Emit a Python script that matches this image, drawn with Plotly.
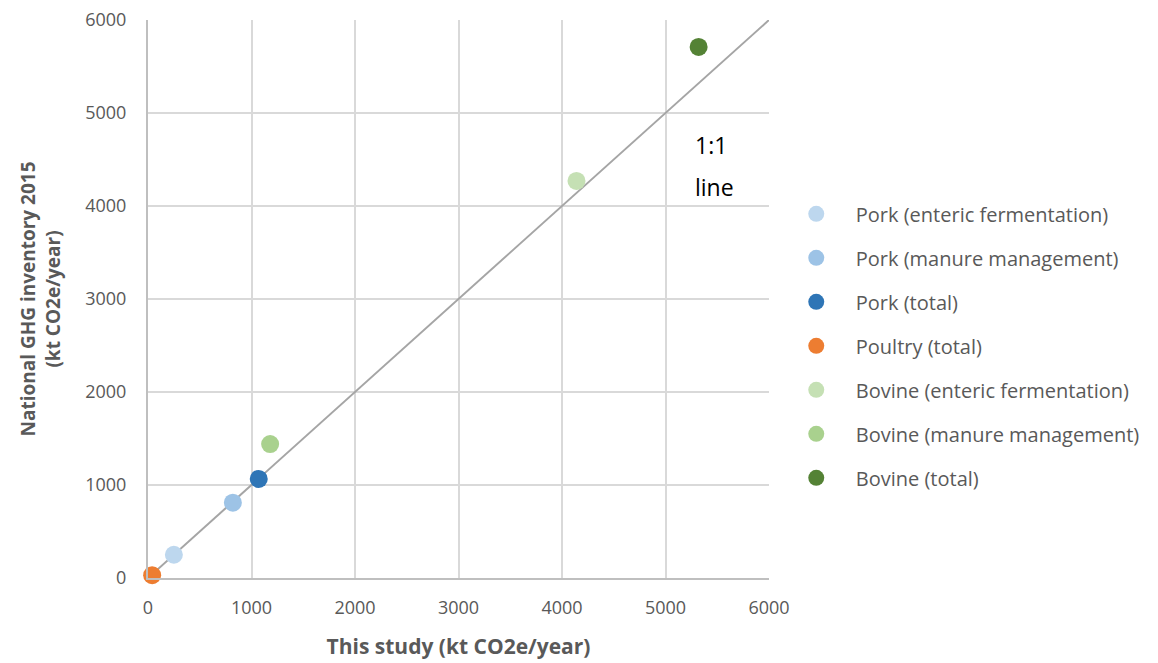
import plotly.graph_objects as go

# Emissions by source: this study (x) vs national GHG inventory 2015 (y), kt CO2e/year
categories = [
    "Pork (enteric fermentation)",
    "Pork (manure management)",
    "Pork (total)",
    "Poultry (total)",
    "Bovine (enteric fermentation)",
    "Bovine (manure management)",
    "Bovine (total)",
]
this_study = [250, 820, 1070, 40, 4140, 1180, 5320]
national_inventory = [250, 810, 1065, 30, 4270, 1440, 5710]
colors = ["#BDD7EE", "#9DC3E6", "#2E75B6", "#ED7D31", "#C5E0B4", "#A9D18E", "#548235"]

one_to_one = [0, 6000]
tick_vals = [0, 1000, 2000, 3000, 4000, 5000, 6000]

font_family = "Open Sans, Lato, sans-serif"

fig = go.Figure()

# 1:1 reference line
fig.add_trace(go.Scatter(
    x=one_to_one, y=one_to_one, mode="lines",
    line=dict(color="#A5A5A5", width=2),
    showlegend=False, hoverinfo="skip",
))

for name, xv, yv, c in zip(categories, this_study, national_inventory, colors):
    fig.add_trace(go.Scatter(
        x=[xv], y=[yv], mode="markers", name=name,
        legendgroup=name,
        marker=dict(color=c, size=18, line=dict(width=0)),
        cliponaxis=False,
    ))

label_font = dict(family=font_family, size=23, color="#000000")
fig.add_annotation(x=5270, y=4660, xref="x", yref="y", text="1:1",
                   showarrow=False, xanchor="left", font=label_font)
fig.add_annotation(x=5270, y=4200, xref="x", yref="y", text="line",
                   showarrow=False, xanchor="left", font=label_font)

axis_common = dict(
    range=[0, 6000], tickvals=tick_vals,
    showgrid=True, gridcolor="#D9D9D9", gridwidth=1.5,
    zeroline=False, showline=True, linecolor="#BFBFBF", linewidth=2,
    tickfont=dict(family=font_family, size=18, color="#595959"),
    ticks="", automargin=False,
)

fig.update_xaxes(
    **axis_common,
    ticklabelstandoff=12,
    title=dict(text="<b>This study (kt CO2e/year)</b>",
               font=dict(family=font_family, size=21, color="#595959"), standoff=22),
)
fig.update_yaxes(
    **axis_common,
    ticklabelstandoff=16,
    title=dict(text="<b>National GHG inventory 2015<br>(kt CO2e/year)</b>",
               font=dict(family=font_family, size=19, color="#595959"), standoff=20),
)

fig.update_layout(
    width=1158, height=663,
    margin=dict(l=148, r=389, t=20, b=85),
    plot_bgcolor="white", paper_bgcolor="white",
    font=dict(family=font_family),
    legend=dict(
        x=1.0125, y=0.416, xanchor="left", yanchor="middle",
        font=dict(family=font_family, size=20, color="#595959"),
        tracegroupgap=15, itemwidth=69,
    ),
)

fig.write_html("out.html")
